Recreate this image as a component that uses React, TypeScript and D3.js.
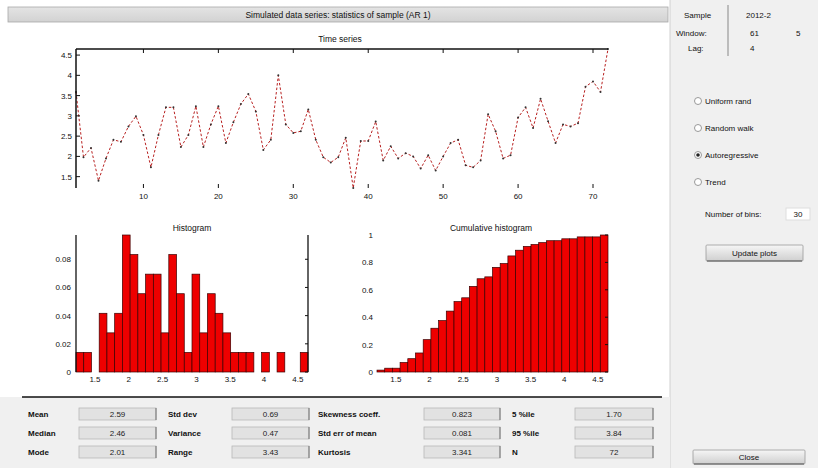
import React from "react";
import * as d3 from "d3";

// time series values, one per sample
const series = [
  3.59, 1.98, 2.21, 1.4, 1.95, 2.41, 2.36, 2.74, 2.99, 2.53, 1.73, 2.53, 3.21,
  3.21, 2.23, 2.53, 3.24, 2.23, 2.79, 3.24, 2.33, 2.84, 3.29, 3.54, 3.11, 2.16,
  2.41, 4.0, 2.79, 2.58, 2.62, 3.16, 2.41, 1.98, 1.85, 1.98, 2.46, 1.22, 2.38,
  2.38, 2.86, 1.9, 2.25, 1.95, 2.08, 2.0, 1.7, 2.03, 1.65, 2.0, 2.33, 2.41,
  1.78, 1.73, 1.9, 3.04, 2.62, 1.95, 2.03, 2.96, 3.21, 2.7, 3.42, 2.87, 2.33,
  2.79, 2.74, 2.82, 3.72, 3.85, 3.59, 4.65,
];

// counts in the 30 histogram bins
const binCounts = [
  1, 1, 0, 3, 2, 3, 7, 6, 4, 5, 5, 2, 6, 4, 1, 5, 2, 4, 3, 2, 1, 1, 1, 0, 1, 0,
  1, 0, 0, 1,
];

const seriesTicks = [10, 20, 30, 40, 50, 60, 70];
const valueTicks = [1.5, 2, 2.5, 3, 3.5, 4, 4.5];
const histTicks = [0, 0.02, 0.04, 0.06, 0.08];
const cumTicks = [0, 0.2, 0.4, 0.6, 0.8, 1];

const statNames1 = ["Mean", "Median", "Mode"];
const statValues1 = ["2.59", "2.46", "2.01"];
const statNames2 = ["Std dev", "Variance", "Range"];
const statValues2 = ["0.69", "0.47", "3.43"];
const statNames3 = ["Skewness coeff.", "Std err of mean", "Kurtosis"];
const statValues3 = ["0.823", "0.081", "3.341"];
const statNames4 = ["5 %ile", "95 %ile", "N"];
const statValues4 = ["1.70", "3.84", "72"];

const radioLabels = ["Uniform rand", "Random walk", "Autoregressive", "Trend"];
const selectedRadio = 2;

const font = "'Liberation Sans', Arial, sans-serif";

const GrayBox = ({ x, y, w, h, text }: any) => (
  <g>
    <rect x={x} y={y} width={w} height={h} fill="#e2e2e2" stroke="#b8b8b8" strokeWidth={0.8} />
    <line x1={x + w} y1={y} x2={x + w} y2={y + h} stroke="#707070" strokeWidth={1} />
    <text x={x + w / 2} y={y + h / 2 + 3} textAnchor="middle" fontSize={8} fill="#222">
      {text}
    </text>
  </g>
);

const Button = ({ x, y, w, h, text }: any) => (
  <g>
    <rect x={x} y={y} width={w} height={h} fill="url(#btnGrad)" stroke="#9a9a9a" strokeWidth={0.8} rx={1} />
    <line x1={x + 1} y1={y + h} x2={x + w - 1} y2={y + h} stroke="#555" strokeWidth={1.2} />
    <text x={x + w / 2} y={y + h / 2 + 3} textAnchor="middle" fontSize={8} fill="#111">
      {text}
    </text>
  </g>
);

export default function App() {
  const extent = d3.extent(series) as [number, number];
  const n = series.length;
  const binW = (extent[1] - extent[0]) / binCounts.length;
  const total = d3.sum(binCounts);
  const probs = binCounts.map((c) => c / total);
  const cum = Array.from(d3.cumsum(binCounts), (c) => c / total);

  // time series plot
  const lx = d3.scaleLinear([1, n], [76, 608]);
  const ly = d3.scaleLinear(extent, [188, 49]);
  const line = d3
    .line<number>()
    .x((d, i) => lx(i + 1))
    .y((d) => ly(d));

  // histogram
  const hx = d3.scaleLinear(extent, [76, 308]);
  const hy = d3.scaleLinear([0, d3.max(probs) as number], [372, 235]);

  // cumulative histogram
  const cx = d3.scaleLinear(extent, [377, 608]);
  const cy = d3.scaleLinear([0, 1], [372, 235]);

  const rows = [414, 433, 452];
  const columns = [
    { lx: 28, bx: 79, bw: 77, names: statNames1, values: statValues1 },
    { lx: 168, bx: 232, bw: 77, names: statNames2, values: statValues2 },
    { lx: 318, bx: 424, bw: 76, names: statNames3, values: statValues3 },
    { lx: 512, bx: 575, bw: 78, names: statNames4, values: statValues4 },
  ];

  return (
    <div style={{ position: "absolute", left: 0, top: 0 }}>
      <svg width={818} height={468} style={{ display: "block", fontFamily: font }}>
        <defs>
          <linearGradient id="btnGrad" x1="0" y1="0" x2="0" y2="1">
            <stop offset="0" stopColor="#f6f6f6" />
            <stop offset="1" stopColor="#cfcfcf" />
          </linearGradient>
          <linearGradient id="barGrad" x1="0" y1="0" x2="0" y2="1">
            <stop offset="0" stopColor="#e4e4e4" />
            <stop offset="1" stopColor="#d2d2d2" />
          </linearGradient>
        </defs>

        <rect x={0} y={0} width={818} height={468} fill="#ffffff" />
        {/* right control panel */}
        <rect x={670} y={0} width={148} height={468} fill="#f0f0f0" />
        <line x1={670} y1={0} x2={670} y2={468} stroke="#d0d0d0" />
        {/* bottom stats panel */}
        <rect x={0} y={397} width={670} height={71} fill="#f0f0f0" />
        <line x1={22} y1={397} x2={662} y2={397} stroke="#111" strokeWidth={1.5} />

        {/* title bar */}
        <rect x={8} y={7} width={660} height={15} fill="url(#barGrad)" stroke="#a8a8a8" strokeWidth={0.8} />
        <text x={338} y={18} textAnchor="middle" fontSize={8.5} fill="#111">
          Simulated data series: statistics of sample (AR 1)
        </text>

        {/* top right info */}
        <line x1={728} y1={5} x2={728} y2={56} stroke="#888" />
        <text x={684} y={18} fontSize={8} fill="#111">Sample</text>
        <text x={746} y={18} fontSize={8} fill="#111">2012-2</text>
        <text x={676} y={36} fontSize={8} fill="#111">Window:</text>
        <text x={750} y={36} fontSize={8} fill="#111">61</text>
        <text x={796} y={36} fontSize={8} fill="#111">5</text>
        <text x={688} y={51} fontSize={8} fill="#111">Lag:</text>
        <text x={750} y={51} fontSize={8} fill="#111">4</text>

        {/* radio buttons */}
        {radioLabels.map((r, i) => (
          <g key={r} transform={`translate(698,${101 + i * 27})`}>
            <circle r={3.5} fill="#fff" stroke="#999" />
            {i === selectedRadio && <circle r={1.8} fill="#222" />}
            <text x={7} y={3} fontSize={8} fill="#111">{r}</text>
          </g>
        ))}
        <text x={705} y={217} fontSize={8} fill="#111">Number of bins:</text>
        <rect x={786} y={208} width={24} height={12} fill="#fff" stroke="#ddd" />
        <text x={798} y={217} textAnchor="middle" fontSize={8} fill="#111">{binCounts.length}</text>
        <Button x={706} y={245} w={97} h={16} text="Update plots" />
        <Button x={693} y={450} w={112} h={14} text="Close" />

        {/* time series */}
        <text x={340} y={42} textAnchor="middle" fontSize={8.5} fill="#111">Time series</text>
        <path d={line(series) as string} fill="none" stroke="#b82020" strokeWidth={1} strokeDasharray="2.5 2" />
        {series.map((v, i) => (
          <circle key={i} cx={lx(i + 1)} cy={ly(v)} r={1} fill="#333" />
        ))}
        <line x1={76} y1={49} x2={608} y2={49} stroke="#111" strokeWidth={1.5} />
        <line x1={76} y1={49} x2={76} y2={188} stroke="#111" strokeWidth={1.5} />
        {seriesTicks.map((t) => (
          <g key={t}>
            <line x1={lx(t)} y1={49} x2={lx(t)} y2={53} stroke="#111" />
            <line x1={lx(t)} y1={188} x2={lx(t)} y2={184} stroke="#111" />
            <text x={lx(t)} y={199} textAnchor="middle" fontSize={8} fill="#111">{t}</text>
          </g>
        ))}
        {valueTicks.map((t) => (
          <g key={t}>
            <line x1={76} y1={ly(t)} x2={80} y2={ly(t)} stroke="#111" />
            <text x={72} y={ly(t) + 3} textAnchor="end" fontSize={8} fill="#111">{t}</text>
          </g>
        ))}

        {/* histogram */}
        <text x={192} y={231} textAnchor="middle" fontSize={8.5} fill="#111">Histogram</text>
        {probs.map((p, i) =>
          p > 0 ? (
            <rect
              key={i}
              x={hx(extent[0] + i * binW)}
              y={hy(p)}
              width={hx(extent[0] + (i + 1) * binW) - hx(extent[0] + i * binW)}
              height={hy(0) - hy(p)}
              fill="#ee0000"
              stroke="#3a0000"
              strokeWidth={0.7}
            />
          ) : null
        )}
        <line x1={76} y1={235} x2={76} y2={372} stroke="#111" strokeWidth={1.3} />
        <line x1={308} y1={235} x2={308} y2={372} stroke="#111" strokeWidth={1.3} />
        {histTicks.map((t) => (
          <g key={t}>
            <line x1={308} y1={hy(t)} x2={305} y2={hy(t)} stroke="#111" />
            <text x={71} y={hy(t) + 3} textAnchor="end" fontSize={8} fill="#111">{t}</text>
          </g>
        ))}
        {valueTicks.map((t) => (
          <text key={t} x={hx(t)} y={382} textAnchor="middle" fontSize={8} fill="#111">{t}</text>
        ))}

        {/* cumulative histogram */}
        <text x={491} y={231} textAnchor="middle" fontSize={8.5} fill="#111">Cumulative histogram</text>
        {cum.map((c, i) => (
          <rect
            key={i}
            x={cx(extent[0] + i * binW)}
            y={cy(c)}
            width={cx(extent[0] + (i + 1) * binW) - cx(extent[0] + i * binW)}
            height={cy(0) - cy(c)}
            fill="#ee0000"
            stroke="#3a0000"
            strokeWidth={0.7}
          />
        ))}
        {cumTicks.map((t) => (
          <g key={t}>
            <line x1={608} y1={cy(t)} x2={605} y2={cy(t)} stroke="#111" />
            <text x={373} y={cy(t) + 3} textAnchor="end" fontSize={8} fill="#111">{t}</text>
          </g>
        ))}
        {valueTicks.map((t) => (
          <text key={t} x={cx(t)} y={382} textAnchor="middle" fontSize={8} fill="#111">{t}</text>
        ))}

        {/* statistics */}
        {columns.map((c, ci) =>
          rows.map((ry, ri) => (
            <g key={`${ci}-${ri}`}>
              <text x={c.lx} y={ry + 3} fontSize={8} fontWeight="bold" fill="#111">{c.names[ri]}</text>
              <GrayBox x={c.bx} y={ry - 6} w={c.bw} h={12} text={c.values[ri]} />
            </g>
          ))
        )}
      </svg>
    </div>
  );
}
